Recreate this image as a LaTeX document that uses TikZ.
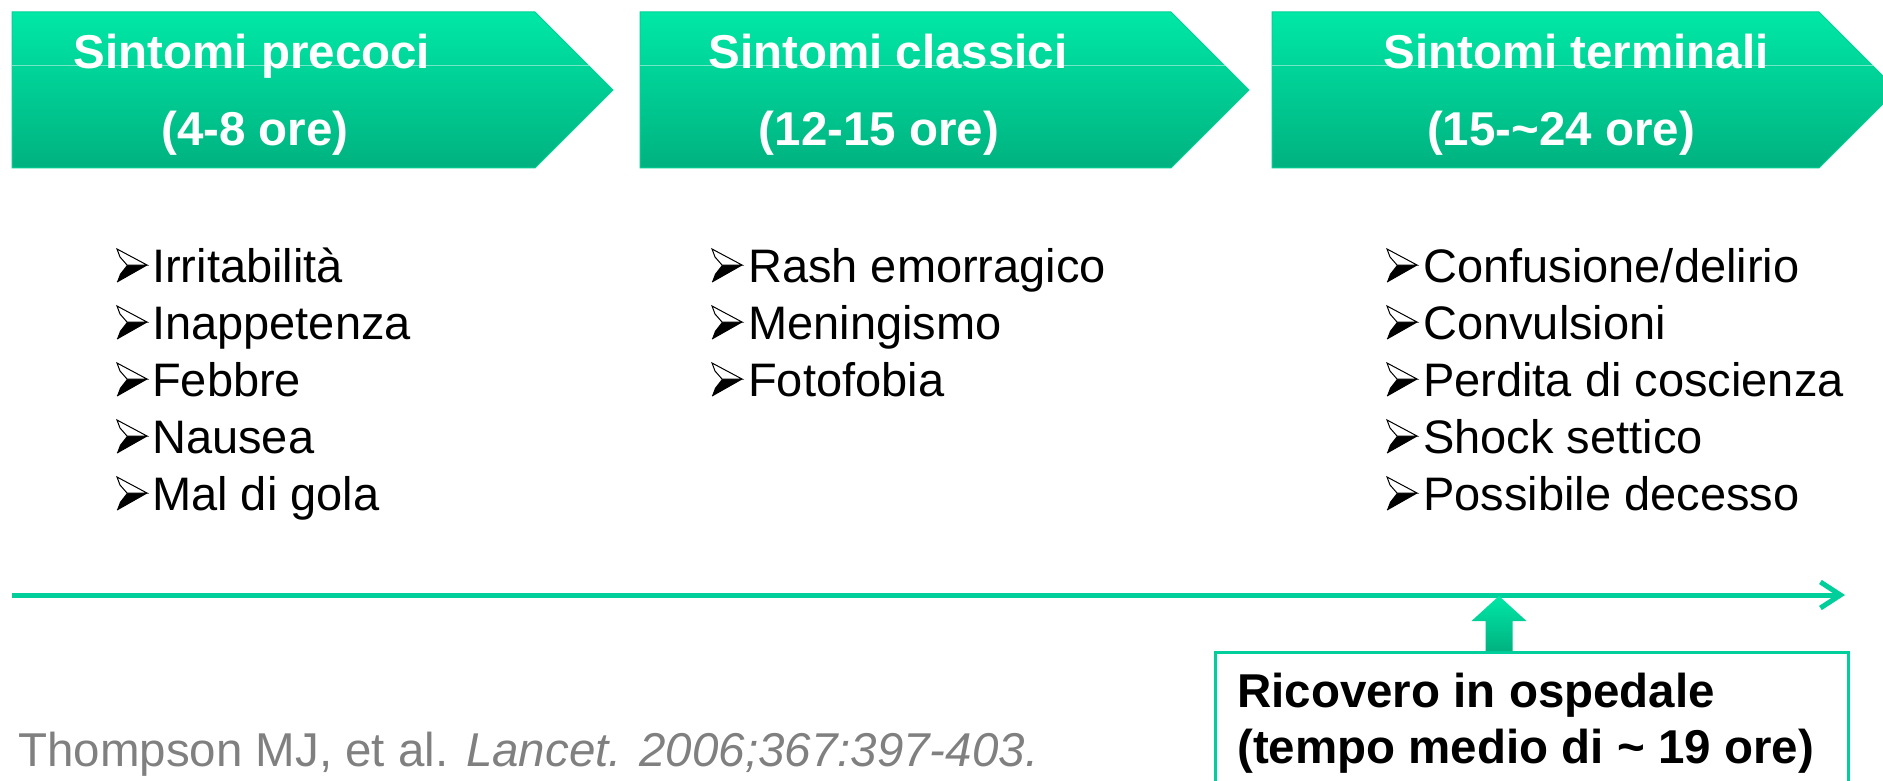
\documentclass[tikz,border=0pt]{standalone}
\usepackage{fontspec}
\setmainfont{Liberation Sans}
\usetikzlibrary{arrows.meta}

\definecolor{greentop}{RGB}{0,232,166}
\definecolor{greenbot}{RGB}{0,178,128}
\definecolor{lineg}{RGB}{0,206,155}
\definecolor{refgray}{RGB}{128,128,128}

\tikzset{
  header/.style={top color=greentop, bottom color=greenbot, draw=greentop!60!greenbot, line width=1pt},
  title/.style={text=white, font=\bfseries\fontsize{47.5}{77}\selectfont, inner sep=0pt, anchor=base},
  items/.style={align=left, anchor=base west, inner sep=0pt, font=\fontsize{47}{57}\selectfont},
  bullet/.pic={
    \fill[black] (10,-17) -- (30,-17) -- (0,0) -- (3,-8) -- cycle;
    \filldraw[fill=white, draw=black, line width=1pt] (0,-33) -- (30,-17) -- (10,-17) -- (3,-25) -- cycle;
    \draw[black, line width=1pt] (0,0) -- (30,-17);
  },
}

\begin{document}
\begin{tikzpicture}[x=1pt, y=-1pt]
    \useasboundingbox (0,0) rectangle (1883,781);
    % Phase headers (chevrons)
    \foreach \l/\r in {12/535, 640/1171, 1272/1819} {
        \shade[header] (\l,12) -- (\r,12) -- (\r+78,90) -- (\r,168) -- (\l,168) -- cycle;
        \draw[white, opacity=0.45, line width=1pt] (\l,66) -- (\r+54,66);
    }
    \node[title] (T1) at (252,69) {Sintomi precoci};
    \node[title] (T1h) at (255,146) {(4-8 ore)};
    \node[title] (T2) at (888,69) {Sintomi classici};
    \node[title] (T2h) at (879,146) {(12-15 ore)};
    \node[title] (T3) at (1576,69) {Sintomi terminali};
    \node[title] (T3h) at (1561,146) {(15-\textasciitilde24 ore)};

    % Symptom lists (base = last line)
    \node[items] (L1) at (152,510) {Irritabilità\\ Inappetenza\\ Febbre\\ Nausea\\ Mal di gola};
    \node[items] (L2) at (748,396) {Rash emorragico\\ Meningismo\\ Fotofobia};
    \node[items] (L3) at (1423,510) {Confusione/delirio\\ Convulsioni\\ Perdita di coscienza\\ Shock settico\\ Possibile decesso};
    % Bullets
    \foreach \x/\cnt in {117/5, 712/3, 1387/5} {
        \foreach \k in {1,...,\cnt} {
            \pic at (\x, {225+57*\k}) {bullet};
        }
    }

    % Time axis
    \coordinate (t0) at (12,595);
    \coordinate (t1) at (1845,595);
    \draw[lineg, line width=5pt, -{Straight Barb[length=20pt, width=26pt]}] (t0) -- (t1);

    % Hospital admission
    \node[draw=lineg, line width=2.5pt, anchor=north west, minimum width=633pt, minimum height=170pt] (ricovero) at (1214,651) {};
    \node[anchor=base west, inner sep=0pt, align=left, font=\bfseries\fontsize{47.5}{56}\selectfont] (ricoveroT) at (1237,763) {Ricovero in ospedale\\(tempo medio di \textasciitilde{} 19 ore)};
    \coordinate (up) at (1499,651);
    \shade[header, draw=none] (up) ++(-13.5,0) -- ++(0,-30) -- ++(-14,0) -- ++(27.5,-25) -- ++(27.5,25) -- ++(-14,0) -- ++(0,30) -- cycle;

    % Reference
    \node[anchor=base west, inner sep=0pt, text=refgray, font=\fontsize{47.5}{57}\selectfont] (ref) at (18,766) {Thompson MJ, et al. \textit{Lancet. 2006;367:397-403.}};
\end{tikzpicture}
\end{document}
